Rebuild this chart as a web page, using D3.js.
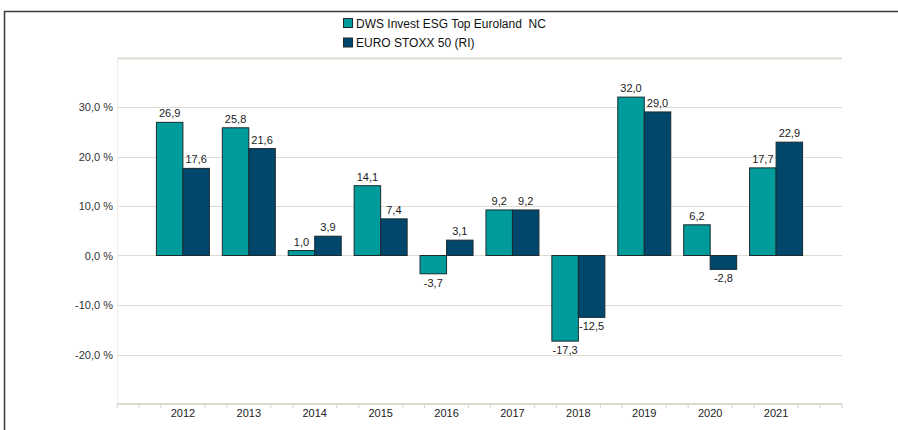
<!DOCTYPE html>
<meta charset="utf-8">
<style>
  body { margin: 0; background: #fff; }
  text { font-family: "Liberation Sans", Arial, sans-serif; white-space: pre; }
</style>
<body>
    <svg width="898" height="430"></svg>
</body>
<script src="https://cdnjs.cloudflare.com/ajax/libs/d3/7.8.5/d3.min.js"></script>
<script>

    // data
    var years = [2012, 2013, 2014, 2015, 2016, 2017, 2018, 2019, 2020, 2021];
    var seriesNames = ["DWS Invest ESG Top Euroland  NC", "EURO STOXX 50 (RI)"];
    var fundValues = [26.9, 25.8, 1.0, 14.1, -3.7, 9.2, -17.3, 32.0, 6.2, 17.7];
    var indexValues = [17.6, 21.6, 3.9, 7.4, 3.1, 9.2, -12.5, 29.0, -2.8, 22.9];
    var yTicks = [-20, -10, 0, 10, 20, 30];
    var colors = ["#009c9c", "#00476b"];

    var svg = d3.select("svg"),
        width = +svg.attr("width"),
        height = +svg.attr("height");

    var plotLeft = 117, plotRight = 842, plotTop = 57.5, plotBottom = 404;

    // x: one slot per year, with an empty slot at each end
    var x = d3.scaleLinear()
        .domain([years[0] - 1, years[years.length - 1] + 1])
        .range([plotLeft, plotRight]);

    var y = d3.scaleLinear()
        .domain([-30, 40])
        .range([plotBottom, plotTop]);

    var barW = 26.5;

    // frame
    svg.append("path")
        .attr("d", `M4.5,${height} V11.5 H${width}`)
        .attr("fill", "none")
        .attr("stroke", "#3a3a3a")
        .attr("stroke-width", 1.5);

    // gridlines
    svg.append("g")
        .selectAll("line")
        .data(yTicks.concat([40]))
        .enter()
        .append("line")
        .attr("x1", plotLeft)
        .attr("x2", plotRight)
        .attr("y1", d => Math.round(y(d)) + 0.5)
        .attr("y2", d => Math.round(y(d)) + 0.5)
        .attr("stroke", "#dedbd3")
        .attr("stroke-width", d => d == 40 ? 2 : 1.2);

    svg.append("line")
        .attr("x1", plotLeft + 0.5).attr("x2", plotLeft + 0.5)
        .attr("y1", plotTop).attr("y2", plotBottom)
        .attr("stroke", "#f0eeea");

    // y labels
    svg.append("g")
        .selectAll("text")
        .data(yTicks)
        .enter()
        .append("text")
        .attr("x", 113)
        .attr("y", d => y(d) + 4)
        .attr("text-anchor", "end")
        .attr("font-size", 11)
        .attr("fill", "#333")
        .text(d => d.toFixed(1).replace(".", ",") + " %");

    // x axis with minor ticks every third of a year (none under the labels)
    var minor = d3.range(0, (years.length + 1) * 3 + 1)
        .filter(i => i % 3 != 0 || i == 0 || i == (years.length + 1) * 3)
        .map(i => years[0] - 1 + i / 3);

    svg.append("line")
        .attr("x1", plotLeft).attr("x2", plotRight)
        .attr("y1", plotBottom).attr("y2", plotBottom)
        .attr("stroke", "#dcd9d1")
        .attr("stroke-width", 2);

    svg.append("g")
        .selectAll("line")
        .data(minor)
        .enter()
        .append("line")
        .attr("x1", d => x(d)).attr("x2", d => x(d))
        .attr("y1", plotBottom).attr("y2", plotBottom + 4)
        .attr("stroke", "#dcd9d1")
        .attr("stroke-width", 1.2);

    svg.append("g")
        .selectAll("text")
        .data(years)
        .enter()
        .append("text")
        .attr("x", d => x(d))
        .attr("y", plotBottom + 13)
        .attr("text-anchor", "middle")
        .attr("font-size", 11)
        .attr("fill", "#222")
        .text(d => d);

    // bars
    var series = [fundValues, indexValues];
    series.forEach(function(vals, s){
        var g = svg.append("g");
        var off = s == 0 ? -barW : 0;
        g.selectAll("rect")
            .data(vals)
            .enter()
            .append("rect")
            .attr("x", (d, i) => x(years[i]) + off)
            .attr("y", d => y(Math.max(0, d)))
            .attr("width", barW)
            .attr("height", d => Math.abs(y(d) - y(0)))
            .attr("fill", colors[s])
            .attr("stroke", "#1b2b30")
            .attr("stroke-width", 1);

        g.selectAll("text")
            .data(vals)
            .enter()
            .append("text")
            .attr("x", (d, i) => x(years[i]) + off + barW / 2)
            .attr("y", d => d >= 0 ? y(d) - 5 : y(d) + 13)
            .attr("text-anchor", "middle")
            .attr("font-size", 11)
            .attr("fill", "#1a1a1a")
            .text(d => d.toFixed(1).replace(".", ","));
    });

    // legend
    var legend = svg.append("g");
    seriesNames.forEach(function(name, i){
        var ly = 23 + i * 19.5;
        legend.append("rect")
            .attr("x", 343.5).attr("y", ly - 4.5)
            .attr("width", 9).attr("height", 9)
            .attr("fill", colors[i])
            .attr("stroke", "#1b2b30");
        legend.append("text")
            .attr("x", 356).attr("y", ly + 4.5)
            .attr("font-size", 12)
            .attr("fill", "#111")
            .text(name);
    });

</script>
